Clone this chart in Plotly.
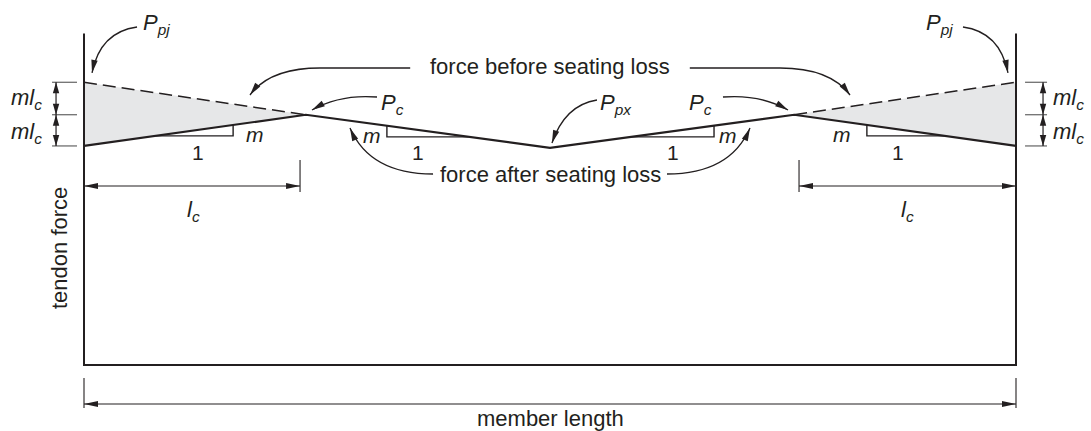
import numpy as np
import plotly.graph_objects as go

# ----------------------------------------------------------
# Member / tendon force data (length units, force units)
# ----------------------------------------------------------
MEMBER_LENGTH = 10.0
LC = 2.38            # length affected by seating loss
FRAME_TOP = 10.2     # top of the tendon-force axis

P_PJ = 8.70          # jacking force
P_C = 7.70           # force at the end of the seating-loss zone
P_END = 6.74         # force at the anchor after seating loss
P_PX = 6.68          # force at midspan

x_after = [0.0, LC, MEMBER_LENGTH / 2, MEMBER_LENGTH - LC, MEMBER_LENGTH]
force_after = [P_END, P_C, P_PX, P_C, P_END]

x_before_left = [0.0, LC]
force_before_left = [P_PJ, P_C]
x_before_right = [MEMBER_LENGTH - LC, MEMBER_LENGTH]
force_before_right = [P_C, P_PJ]

# slope triangles: x of the right-angle corner, level of the horizontal leg
tri_corner_x = [1.60, 3.25, 6.76, 8.40]
tri_level = [7.05, 7.02, 7.02, 7.05]

LEVELS = [P_PJ, P_C, P_END]  # ml_c dimension levels

# ----------------------------------------------------------
# Figure setup
# ----------------------------------------------------------
W, H = 1091, 431
XR = [-0.9013, 10.8047]
YR = [-2.0308, 11.2308]
SX = W / (XR[1] - XR[0])   # pixels per length unit
SY = H / (YR[1] - YR[0])   # pixels per force unit

INK = "#231f20"
FONT = "Liberation Sans, Arial, sans-serif"

fig = go.Figure()
shapes = []
annotations = []


def fmt(x, y):
    return f"{x:.4f},{y:.4f}"


def head(tip, frm, length=13, half=3.2):
    """Filled narrow arrowhead at tip, pointing away from frm."""
    dxp = (tip[0] - frm[0]) * SX
    dyp = (tip[1] - frm[1]) * SY
    n = np.hypot(dxp, dyp)
    ux, uy = dxp / n, dyp / n
    bx, by = -length * ux, -length * uy
    px, py = -uy * half, ux * half
    p1 = (tip[0] + (bx + px) / SX, tip[1] + (by + py) / SY)
    p2 = (tip[0] + (bx - px) / SX, tip[1] + (by - py) / SY)
    shapes.append(dict(
        type="path", xref="x", yref="y",
        path=f"M {fmt(*tip)} L {fmt(*p1)} L {fmt(*p2)} Z",
        fillcolor=INK, line=dict(width=0),
    ))


def curved_arrow(points, ctrl, width=1.3):
    """Leader made of straight part(s) then a quadratic curve ending in an arrowhead."""
    path = "M " + fmt(*points[0])
    for p in points[1:-1]:
        path += " L " + fmt(*p)
    path += f" Q {fmt(*ctrl)} {fmt(*points[-1])}"
    shapes.append(dict(type="path", xref="x", yref="y", path=path,
                       line=dict(color=INK, width=width)))
    head(points[-1], ctrl)


def seg(x0, y0, x1, y1, width=1.2, color=INK):
    shapes.append(dict(type="line", xref="x", yref="y", x0=x0, y0=y0, x1=x1, y1=y1,
                       line=dict(color=color, width=width)))


def dim(x0, y0, x1, y1, length=14, half=3.0):
    seg(x0, y0, x1, y1, width=1.2)
    head((x0, y0), (x1, y1), length, half)
    head((x1, y1), (x0, y0), length, half)


def label(x, y, text, size=22, **kw):
    annotations.append(dict(x=x, y=y, xref="x", yref="y", text=text, showarrow=False,
                            font=dict(family=FONT, size=size, color=INK), **kw))


# ----------------------------------------------------------
# Seating loss zones (shaded)
# ----------------------------------------------------------
fig.add_trace(go.Scatter(
    x=[x_before_left[0], x_before_left[1], x_after[0]],
    y=[force_before_left[0], force_before_left[1], force_after[0]],
    fill="toself", fillcolor="#e6e7e8", mode="none", hoverinfo="skip",
))
fig.add_trace(go.Scatter(
    x=[x_before_right[0], x_before_right[1], x_after[-1]],
    y=[force_before_right[0], force_before_right[1], force_after[-1]],
    fill="toself", fillcolor="#e6e7e8", mode="none", hoverinfo="skip",
))

# frame (tendon force axis, base, far end)
fig.add_trace(go.Scatter(
    x=[0, 0, MEMBER_LENGTH, MEMBER_LENGTH],
    y=[FRAME_TOP, 0, 0, FRAME_TOP],
    mode="lines", line=dict(color=INK, width=2),
))

# force before seating loss (dashed)
for xs, ys in [(x_before_left, force_before_left), (x_before_right, force_before_right)]:
    fig.add_trace(go.Scatter(x=xs, y=ys, mode="lines",
                             line=dict(color=INK, width=1.5, dash="13px,6px")))

# force after seating loss
fig.add_trace(go.Scatter(x=x_after, y=force_after, mode="lines",
                         line=dict(color=INK, width=2.2)))

# slope triangles
for xc, lev in zip(tri_corner_x, tri_level):
    i = int(np.searchsorted(x_after, xc)) - 1
    x0, x1 = x_after[i], x_after[i + 1]
    y0, y1 = force_after[i], force_after[i + 1]
    x_cross = x0 + (lev - y0) * (x1 - x0) / (y1 - y0)
    y_top = float(np.interp(xc, x_after, force_after))
    fig.add_trace(go.Scatter(x=[x_cross, xc, xc], y=[lev, lev, y_top], mode="lines",
                             line=dict(color=INK, width=1.4)))

# ----------------------------------------------------------
# ml_c dimensions at both ends
# ----------------------------------------------------------
for lv in LEVELS:
    seg(-0.343, lv, -0.075, lv, width=1.1, color="#555555")
    seg(10.097, lv, 10.333, lv, width=1.1, color="#555555")
for xa in (-0.30, 10.29):
    dim(xa, P_PJ, xa, P_C, length=11, half=3.2)
    dim(xa, P_C, xa, P_END, length=11, half=3.2)
label(-0.612, 8.17, "<i>ml</i><sub><i>c</i></sub>")
label(-0.612, 7.15, "<i>ml</i><sub><i>c</i></sub>")
label(10.558, 8.17, "<i>ml</i><sub><i>c</i></sub>")
label(10.558, 7.15, "<i>ml</i><sub><i>c</i></sub>")

# l_c dimensions
seg(2.318, 6.31, 2.318, 5.32, width=1.1)
seg(7.672, 6.31, 7.672, 5.32, width=1.1)
dim(0.0, 5.508, 2.318, 5.508)
dim(7.672, 5.508, MEMBER_LENGTH, 5.508)
label(1.17, 4.75, "<i>l</i><sub><i>c</i></sub>")
label(8.84, 4.75, "<i>l</i><sub><i>c</i></sub>")

# member length
seg(0, -0.40, 0, -1.32, width=1.1)
seg(MEMBER_LENGTH, -0.40, MEMBER_LENGTH, -1.32, width=1.1)
dim(0.0, -1.2, MEMBER_LENGTH, -1.2)
label(5.0, -1.66, "member length", borderpad=0)

label(-0.268, 3.6, "tendon force", textangle=-90)

# slope labels
for xm, ym in [(1.835, 7.08), (3.09, 7.05), (6.91, 7.05), (8.133, 7.08)]:
    label(xm, ym, "<i>m</i>", size=21)
for x1 in [1.223, 3.584, 6.32, 8.734]:
    label(x1, 6.55, "1", size=21)

# ----------------------------------------------------------
# Callouts
# ----------------------------------------------------------
label(0.783, 10.50, "<i>P</i><sub><i>pj</i></sub>")
label(9.174, 10.50, "<i>P</i><sub><i>pj</i></sub>")
curved_arrow([(0.569, 10.40), (0.086, 8.985)], (0.172, 10.246))
curved_arrow([(9.431, 10.40), (9.914, 8.985)], (9.828, 10.246))

label(5.0, 9.17, "force before seating loss")
curved_arrow([(3.50, 9.138), (2.532, 9.138), (1.781, 8.308)], (1.996, 9.138))
curved_arrow([(6.50, 9.138), (7.468, 9.138), (8.219, 8.308)], (8.004, 9.138))

label(3.305, 8.02, "<i>P</i><sub><i>c</i></sub>")
label(6.62, 8.02, "<i>P</i><sub><i>c</i></sub>")
label(5.708, 8.02, "<i>P</i><sub><i>px</i></sub>")
curved_arrow([(3.144, 8.246), (2.446, 7.846)], (2.747, 8.338))
curved_arrow([(6.856, 8.246), (7.554, 7.846)], (7.253, 8.338))
curved_arrow([(5.504, 8.154), (5.021, 6.831)], (5.161, 8.0))

label(5.0, 5.86, "force after seating loss")
curved_arrow([(3.745, 5.877), (2.854, 7.292)], (3.069, 5.877))
curved_arrow([(6.255, 5.877), (7.146, 7.292)], (6.931, 5.877))

fig.update_layout(
    width=W, height=H,
    margin=dict(l=0, r=0, t=0, b=0),
    paper_bgcolor="white", plot_bgcolor="white",
    showlegend=False,
    xaxis=dict(range=XR, visible=False, fixedrange=True),
    yaxis=dict(range=YR, visible=False, fixedrange=True),
    shapes=shapes,
    annotations=annotations,
)

# the page body has a default 8px margin; drop it so the figure fills the window
fig.write_html("out.html", post_script="document.body.style.margin='0px';",
               config={"displayModeBar": False})
